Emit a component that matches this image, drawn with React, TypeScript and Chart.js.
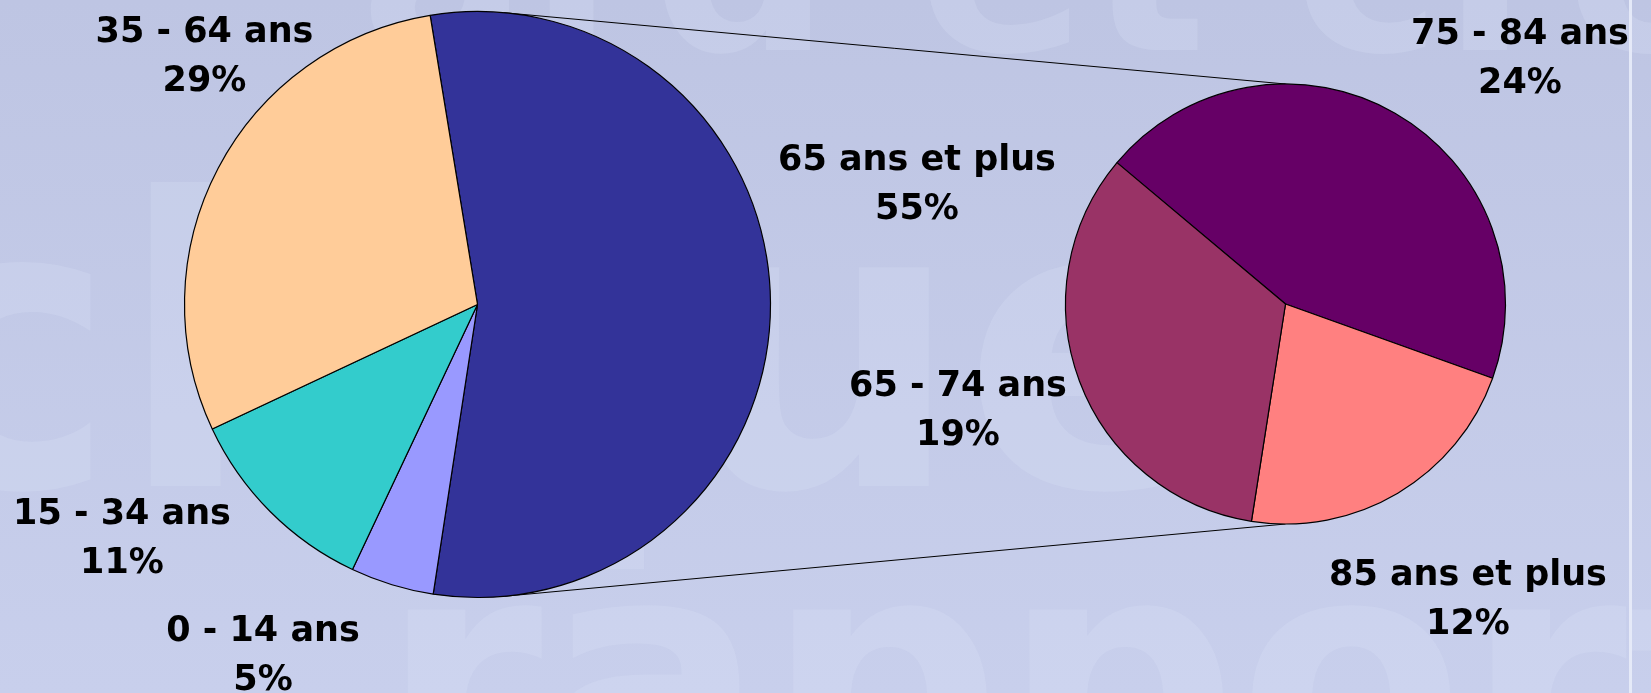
import React, { useEffect, useRef } from "react";
import { Chart, registerables } from "chart.js";

Chart.register(...registerables);

const W = 1651;
const H = 693;

// Main pie: age groups (share of total, %)
const mainCategories = ["65 ans et plus", "0 - 14 ans", "15 - 34 ans", "35 - 64 ans"];
const mainValues = [55.0, 4.6, 11.0, 29.4];
const mainColors = ["#333399", "#9999FF", "#33CCCC", "#FFCC99"];

// Secondary pie: breakdown of "65 ans et plus" (share of total, %)
const subCategories = ["75 - 84 ans", "85 ans et plus", "65 - 74 ans"];
const subValues = [24.4, 12.1, 18.5];
const subColors = ["#660066", "#FF8080", "#993366"];

// label layout: [text centre x offset, first baseline y offset] from each pie centre
const mainLabelOffsets = [
  [439.5, -134.5],
  [-214.5, 336.5],
  [-355.5, 219.5],
  [-273, -262.5],
];
const subLabelOffsets = [
  [234.5, -260],
  [182.5, 281],
  [-327.5, 92],
];

const LABEL_FONT = "bold 35px 'DejaVu Sans', Verdana, sans-serif";
const LINE_GAP = 49;

function drawLabels(chart: any, categories: string[], values: number[], offsets: number[][]) {
  const ctx = chart.ctx;
  const arcs = chart.getDatasetMeta(0).data;
  ctx.save();
  ctx.font = LABEL_FONT;
  ctx.fillStyle = "#000000";
  ctx.textAlign = "center";
  ctx.textBaseline = "alphabetic";
  categories.forEach((c, i) => {
    const a = arcs[i];
    const cx = a.x + offsets[i][0];
    const by = a.y + offsets[i][1];
    ctx.fillText(c, cx, by);
    ctx.fillText(Math.round(values[i]) + "%", cx, by + LINE_GAP);
  });
  ctx.restore();
}

function drawBackground(chart: any) {
  const ctx = chart.ctx;
  ctx.save();
  const g = ctx.createLinearGradient(0, 0, 0, chart.height);
  g.addColorStop(0, "#BEC5E3");
  g.addColorStop(1, "#C8CFEC");
  ctx.fillStyle = g;
  ctx.fillRect(0, 0, chart.width, chart.height);
  // faint watermark lettering of the slide template
  ctx.fillStyle = "rgba(220,226,246,0.25)";
  ctx.font = "bold 250px 'DejaVu Sans', sans-serif";
  ctx.textBaseline = "alphabetic";
  ctx.textAlign = "left";
  ctx.fillText("ard et cro", 360, 50);
  ctx.font = "bold 400px 'DejaVu Sans', sans-serif";
  ctx.fillText("clique", -120, 486);
  ctx.font = "bold 330px 'DejaVu Sans', sans-serif";
  ctx.fillText("rapport", 380, 790);
  // light vertical rule at right
  ctx.fillStyle = "rgba(232,236,250,0.9)";
  ctx.fillRect(1629, 0, 3, chart.height);
  ctx.restore();
}

// tangent point on circle (cx, cy, r) seen from external point (px, py); side -1 = upper, +1 = lower
function tangentPoint(cx: number, cy: number, r: number, px: number, py: number, side: number) {
  const dx = px - cx;
  const dy = py - cy;
  const d = Math.sqrt(dx * dx + dy * dy);
  const phi = Math.atan2(dy, dx);
  const alpha = Math.acos(Math.min(1, r / d));
  const ang = phi + side * alpha;
  return [cx + r * Math.cos(ang), cy + r * Math.sin(ang)];
}

export default function App() {
  const mainRef = useRef<HTMLCanvasElement>(null);
  const subRef = useRef<HTMLCanvasElement>(null);

  useEffect(() => {
    document.body.style.margin = "0";
    if (!mainRef.current || !subRef.current) return;

    // secondary pie (upper canvas) built first so the main chart can draw connectors beneath its slices
    const subChart = new Chart(subRef.current, {
      type: "pie",
      data: {
        labels: subCategories,
        datasets: [
          {
            data: subValues,
            backgroundColor: subColors,
            borderColor: "#000000",
            borderWidth: 1.2,
          },
        ],
      },
      options: {
        animation: false,
        responsive: false,
        devicePixelRatio: 1,
        events: [],
        radius: 220,
        rotation: -50,
        layout: { padding: { left: 1055.5, right: 135.5, top: 74, bottom: 159 } },
        plugins: { legend: { display: false }, tooltip: { enabled: false } },
      } as any,
      plugins: [
        {
          id: "subLabels",
          afterDraw(chart: any) {
            drawLabels(chart, subCategories, subValues, subLabelOffsets);
          },
        },
      ],
    });

    const mainPlugin = {
      id: "mainDecor",
      beforeDraw(chart: any) {
        drawBackground(chart);
      },
      beforeDatasetsDraw(chart: any) {
        const other = chart.getDatasetMeta(0).data[0] as any;
        const sub = subChart.getDatasetMeta(0).data[0] as any;
        if (!other || !sub) return;
        const ctx = chart.ctx;
        const r = other.outerRadius;
        const topP = [sub.x, sub.y - sub.outerRadius];
        const botP = [sub.x, sub.y + sub.outerRadius];
        const t1 = tangentPoint(other.x, other.y, r, topP[0], topP[1], -1);
        const t2 = tangentPoint(other.x, other.y, r, botP[0], botP[1], 1);
        ctx.save();
        ctx.strokeStyle = "#000000";
        ctx.lineWidth = 1;
        ctx.beginPath();
        ctx.moveTo(t1[0], t1[1]);
        ctx.lineTo(topP[0], topP[1]);
        ctx.moveTo(t2[0], t2[1]);
        ctx.lineTo(botP[0], botP[1]);
        ctx.stroke();
        ctx.restore();
      },
      afterDraw(chart: any) {
        drawLabels(chart, mainCategories, mainValues, mainLabelOffsets);
      },
    };

    const mainChart = new Chart(mainRef.current, {
      type: "pie",
      data: {
        labels: mainCategories,
        datasets: [
          {
            data: mainValues,
            backgroundColor: mainColors,
            borderColor: "#000000",
            borderWidth: 1.2,
          },
        ],
      },
      options: {
        animation: false,
        responsive: false,
        devicePixelRatio: 1,
        events: [],
        radius: 293,
        rotation: -9.3,
        layout: { padding: { left: 177.5, right: 873.5, top: 4.5, bottom: 88.5 } },
        plugins: { legend: { display: false }, tooltip: { enabled: false } },
      } as any,
      plugins: [mainPlugin],
    });

    return () => {
      mainChart.destroy();
      subChart.destroy();
    };
  }, []);

  return (
    <div style={{ position: "fixed", left: 0, top: 0, width: W, height: H, overflow: "hidden" }}>
      <canvas ref={mainRef} width={W} height={H} style={{ position: "absolute", left: 0, top: 0, width: W, height: H }} />
      <canvas ref={subRef} width={W} height={H} style={{ position: "absolute", left: 0, top: 0, width: W, height: H }} />
    </div>
  );
}
